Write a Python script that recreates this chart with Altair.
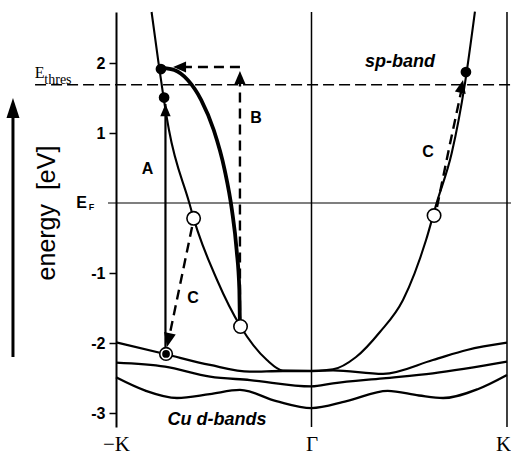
import altair as alt
import pandas as pd

# ---------------- data (k: wave vector, -K .. Γ .. K ; E: energy in eV) ----------------
sp_k = [-0.818, -0.783, -0.757, -0.729, -0.625, -0.603, -0.483, -0.363, -0.228, -0.146, 0.0,
        0.110, 0.228, 0.350, 0.468, 0.586, 0.640, 0.717, 0.785, 0.836]
sp_E = [2.729, 2.014, 1.514, 1.043, 0.0, -0.219, -1.10, -1.764, -2.243, -2.393, -2.40,
        -2.376, -2.20, -1.843, -1.386, -0.529, 0.0, 0.71, 1.71, 2.733]

d1_k = [-1.0, -0.749, -0.519, -0.315, -0.146, 0.0, 0.11, 0.366, 0.621, 0.795, 1.0]
d1_E = [-1.99, -2.157, -2.314, -2.41, -2.40, -2.40, -2.39, -2.44, -2.243, -2.10, -1.996]

d2_k = [-1.0, -0.749, -0.519, -0.315, 0.0, 0.11, 0.366, 0.621, 1.0]
d2_E = [-2.28, -2.338, -2.48, -2.53, -2.62, -2.576, -2.505, -2.433, -2.267]

d3_k = [-1.0, -0.85, -0.688, -0.52, -0.366, -0.18, 0.0, 0.18, 0.39, 0.55, 0.673, 0.85, 1.0]
d3_E = [-2.49, -2.68, -2.786, -2.73, -2.67, -2.83, -2.93, -2.83, -2.685, -2.75, -2.786, -2.66, -2.457]

# thick curved path B (from open circle up to the filled dot)
b_k = [-0.366, -0.369, -0.383, -0.407, -0.444, -0.500, -0.564, -0.633, -0.702, -0.760]
b_E = [-1.757, -1.243, -0.671, -0.10, 0.471, 1.043, 1.471, 1.757, 1.900, 1.929]

# transition A (solid vertical)
a_k = [-0.747, -0.747]
a_E = [-2.157, 1.414]

# dashed transitions: B vertical, B horizontal, C left, C right
dash_id = ["Bv", "Bv", "Bh", "Bh", "Cl", "Cl", "Cr", "Cr", "Cr"]
dash_k = [-0.366, -0.366, -0.366, -0.647, -0.611, -0.729, 0.642, 0.705, 0.765]
dash_E = [-1.764, 1.70, 1.943, 1.943, -0.343, -1.929, -0.057, 0.80, 1.586]

# arrow heads (tip position, direction in degrees clockwise from up)
head_k = [-0.747, -0.366, -0.708, -0.739, 0.775]
head_E = [1.414, 1.886, 1.943, -2.057, 1.757]
head_dir = [0, 0, 270, 192, 12]
head_size = [150, 169, 169, 196, 169]

# open circles / filled dots
open_k = [-0.603, -0.363, 0.627]
open_E = [-0.219, -1.764, -0.179]
fill_k = [-0.770, -0.754, 0.790]
fill_E = [1.914, 1.507, 1.871]
ring_k = [-0.744]
ring_E = [-2.157]

E_F = 0.0
E_thres = 1.69
kpoint_vals = [-1, 0, 1]
kpoint_labels = ["\u2212K", "\u0393", "K"]
ytick_vals = [-3, -2, -1, 1, 2]

# text annotations
lab_txt = ["A", "B", "C", "C"]
lab_k = [-0.839, -0.284, -0.606, 0.596]
lab_E = [0.493, 1.214, -1.35, 0.729]

# ---------------- scales / encodings ----------------
xs = alt.Scale(domain=[-1.0, 1.0205], nice=False, zero=False)
ys = alt.Scale(domain=[-3.2, 2.729], nice=False, zero=False)

xlab_expr = " : ".join(
    [f"datum.value == {v} ? '{l}'" for v, l in zip(kpoint_vals[:-1], kpoint_labels[:-1])]
) + f" : '{kpoint_labels[-1]}'"

xaxis = alt.Axis(values=kpoint_vals, labelExpr=xlab_expr, domain=False, ticks=False, grid=False,
                 title=None, labelFont="Liberation Serif", labelFontSize=21, labelPadding=6,
                 labelColor="black", labelFlush=False, labelOverlap=False, labelAngle=0,
                 labelOffset={"condition": {"test": "datum.value == 1", "value": -4}, "value": 0})
yaxis = alt.Axis(values=ytick_vals, labelExpr="replace(datum.label, '\u2212', '-')", grid=False,
                 title=None, labelFont="Liberation Sans", labelFontWeight="bold", labelFontSize=16,
                 labelColor="black", tickSize=7, tickWidth=1.5, tickColor="black",
                 domainColor="black", domainWidth=2, labelPadding=4)

X = alt.X("k:Q", scale=xs, axis=xaxis)
Y = alt.Y("E:Q", scale=ys, axis=yaxis)


def df(k, E, **extra):
    d = {"k": k, "E": E}
    d.update(extra)
    return pd.DataFrame(d)


layers = []

# vertical symmetry-point lines (Γ and K)
layers.append(alt.Chart(pd.DataFrame({"k": [0.0, 1.0]})).mark_rule(color="black", strokeWidth=1.5)
              .encode(x=X))

# Fermi level and threshold level
layers.append(alt.Chart(pd.DataFrame({"k": [-1.041], "k2": [1.0205], "E": [E_F]}))
              .mark_rule(color="black", strokeWidth=1.2, clip=False)
              .encode(x=X, x2="k2:Q", y=Y))
layers.append(alt.Chart(pd.DataFrame({"k": [-1.414], "k2": [1.0205], "E": [E_thres]}))
              .mark_rule(color="black", strokeWidth=1.5, strokeDash=[11, 5], clip=False)
              .encode(x=X, x2="k2:Q", y=Y))

# d-bands
dbands = pd.concat([df(d1_k, d1_E, band="d1"), df(d2_k, d2_E, band="d2"), df(d3_k, d3_E, band="d3")])
layers.append(alt.Chart(dbands).mark_line(color="black", strokeWidth=2.3, interpolate="monotone")
              .encode(x=X, y=Y, detail="band:N"))

# sp-band
layers.append(alt.Chart(df(sp_k, sp_E)).mark_line(color="black", strokeWidth=2.1, interpolate="monotone")
              .encode(x=X, y=Y))

# thick path B
layers.append(alt.Chart(df(b_k, b_E)).mark_line(
    color="black", strokeWidth=3.8, interpolate="monotone").encode(x=X, y=Y))

# A transition
layers.append(alt.Chart(df(a_k, a_E)).mark_line(color="black", strokeWidth=2.2).encode(x=X, y=Y))

# dashed transitions
layers.append(alt.Chart(df(dash_k, dash_E, seg=dash_id, o=list(range(len(dash_k)))))
              .mark_line(color="black", strokeWidth=2.4, strokeDash=[10, 6])
              .encode(x=X, y=Y, detail="seg:N", order="o:Q"))

# arrow heads
layers.append(alt.Chart(df(head_k, head_E, ang=head_dir, sz=head_size))
              .mark_point(shape="M0,0L-0.85,2L0.85,2Z", filled=True, color="black", opacity=1, clip=False)
              .encode(x=X, y=Y, angle=alt.Angle("ang:Q", scale=None), size=alt.Size("sz:Q", scale=None)))

# points
layers.append(alt.Chart(df(open_k, open_E)).mark_point(
    shape="circle", filled=True, fill="white", stroke="black", strokeWidth=1.6, size=180, opacity=1)
    .encode(x=X, y=Y))
layers.append(alt.Chart(df(fill_k, fill_E)).mark_point(
    shape="circle", filled=True, color="black", size=115, opacity=1).encode(x=X, y=Y))
layers.append(alt.Chart(df(ring_k, ring_E)).mark_point(
    shape="circle", filled=True, fill="white", stroke="black", strokeWidth=1.6, size=160, opacity=1)
    .encode(x=X, y=Y))
layers.append(alt.Chart(df(ring_k, ring_E)).mark_point(
    shape="circle", filled=True, color="black", size=60, opacity=1).encode(x=X, y=Y))

# transition labels
layers.append(alt.Chart(df(lab_k, lab_E, t=lab_txt)).mark_text(
    font="Liberation Sans", fontWeight="bold", fontSize=16, color="black", baseline="middle", align="center")
    .encode(x=X, y=Y, text="t:N"))

# band names
layers.append(alt.Chart(df([0.453, -0.483], [2.014, -3.10], t=["sp-band", "Cu d-bands"])).mark_text(
    font="Liberation Sans", fontWeight="bold", fontStyle="italic", fontSize=18, color="black",
    baseline="middle", align="center", clip=False)
    .encode(x=X, y=Y, text="t:N"))

# E_F label (E with subscript F)
layers.append(alt.Chart(df([-1.176, -1.125], [0.007, -0.064], t=["E", "F"], s=[16, 9])).mark_text(
    font="Liberation Sans", fontWeight="bold", color="black", baseline="middle", align="center", clip=False)
    .encode(x=X, y=Y, text="t:N", size=alt.Size("s:Q", scale=None)))

# E_thres label
layers.append(alt.Chart(df([-1.391, -1.297], [1.864, 1.757], t=["E", "thres"], s=[16, 14])).mark_text(
    font="Liberation Serif", color="black", baseline="middle", align="center", clip=False)
    .encode(x=X, y=Y, text="t:N", size=alt.Size("s:Q", scale=None)))

# energy axis title with big arrow
layers.append(alt.Chart(df([-1.353], [-0.143], t=["energy \u00a0[eV]"])).mark_text(
    font="Liberation Sans", fontSize=25, angle=270, color="black", baseline="middle", align="center",
    clip=False).encode(x=X, y=Y, text="t:N"))
layers.append(alt.Chart(df([-1.527, -1.527], [-2.2, 1.33])).mark_line(
    color="black", strokeWidth=3, clip=False).encode(x=X, y=Y))
layers.append(alt.Chart(df([-1.527], [1.50])).mark_point(
    shape="M0,0L-0.65,2L0.65,2Z", filled=True, color="black", size=400, opacity=1, clip=False)
    .encode(x=X, y=Y))

chart = alt.layer(*layers).properties(
    width=395, height=415,
    padding={"left": 116, "top": 12, "right": 0, "bottom": 32},
    autosize=alt.AutoSizeParams(type="none"),
    background="white",
).configure_view(stroke=None)

chart.save("out.html", embed_options={"renderer": "svg", "actions": False})
